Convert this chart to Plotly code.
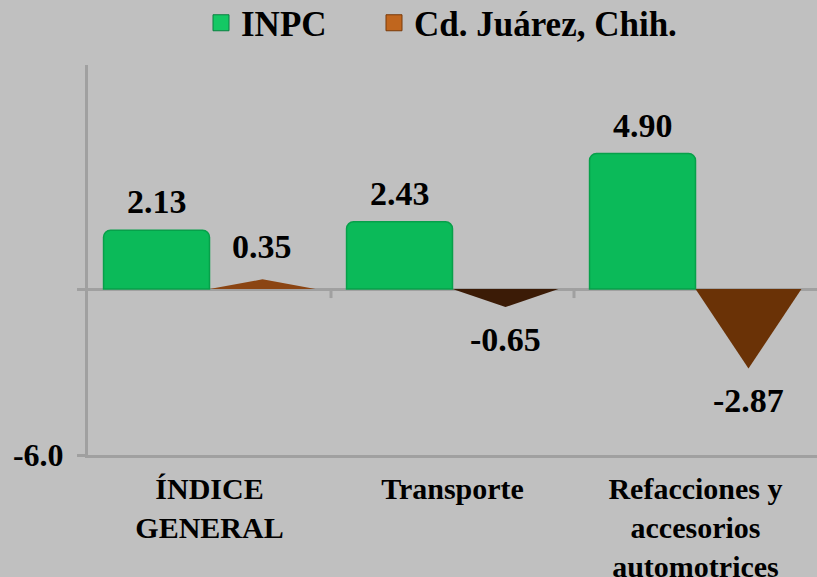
import plotly.graph_objects as go
import numpy as np

categories = ["ÍNDICE<br>GENERAL", "Transporte", "Refacciones y<br>accesorios<br>automotrices"]
inpc = [2.13, 2.43, 4.90]
juarez = [0.35, -0.65, -2.87]
series_names = ["INPC", "Cd. Juárez, Chih."]
y_tick_vals = [-6, 0]
y_tick_text = ["-6.0", ""]

FONT = "Liberation Serif"
BG = "#C0C0C0"
AXIS = "#A0A0A0"
GREEN = "#0BBA59"
GREEN_EDGE = "#07A04A"
TRI_COLORS = ["#8B4513", "#3B1B06", "#6A3206"]

xs = np.arange(len(categories))
w = 0.436

fig = go.Figure()

fig.add_trace(go.Bar(
    x=xs - w / 2, y=inpc, width=w,
    marker=dict(color=GREEN, line=dict(color=GREEN_EDGE, width=1.5), cornerradius=7),
    showlegend=False, hoverinfo="skip",
))

for i, v in enumerate(juarez):
    x0 = xs[i]
    fig.add_trace(go.Scatter(
        x=[x0, x0 + w / 2, x0 + w, x0], y=[0, v, 0, 0],
        mode="lines", fill="toself", fillcolor=TRI_COLORS[i % len(TRI_COLORS)],
        line=dict(width=0, color=TRI_COLORS[i % len(TRI_COLORS)]),
        showlegend=False, hoverinfo="skip",
    ))

# legend entries
fig.add_trace(go.Scatter(
    x=[None], y=[None], mode="markers", name=series_names[0], legend="legend",
    marker=dict(symbol="square", size=19, color="#14C864", line=dict(color="#0A8040", width=1)),
))
fig.add_trace(go.Scatter(
    x=[None], y=[None], mode="markers", name=series_names[1], legend="legend2",
    marker=dict(symbol="square", size=19, color="#C0661E", line=dict(color="#7A3A08", width=1)),
))

# data labels
for i, v in enumerate(inpc):
    fig.add_annotation(x=xs[i] - w / 2, y=v, text=f"{v:.2f}", showarrow=False,
                       yanchor="bottom", yshift=8,
                       font=dict(family=FONT, size=34, color="black", weight="bold"))
for i, v in enumerate(juarez):
    fig.add_annotation(x=xs[i] + w / 2, y=v, text=f"{v:.2f}", showarrow=False,
                       yanchor="bottom" if v >= 0 else "top",
                       yshift=12 if v >= 0 else -12,
                       font=dict(family=FONT, size=34, color="black", weight="bold"))

# category separator ticks on the zero line
for b in xs[:-1] + 0.5:
    fig.add_shape(type="line", xref="x", yref="y", x0=b, x1=b,
                  ysizemode="pixel", yanchor=0, y0=0, y1=-9,
                  line=dict(color=AXIS, width=3))

legend_font = dict(family=FONT, size=35, color="black", weight="bold")
fig.update_layout(
    width=817, height=577,
    margin=dict(l=88, r=0, t=65, b=122),
    paper_bgcolor=BG, plot_bgcolor=BG,
    font=dict(family=FONT, color="black", weight="bold"),
    legend=dict(orientation="h", xref="container", yref="container",
                x=201 / 817, xanchor="left", y=1 - 23 / 577, yanchor="middle",
                font=legend_font, bgcolor="rgba(0,0,0,0)"),
    legend2=dict(orientation="h", xref="container", yref="container",
                 x=374 / 817, xanchor="left", y=1 - 23 / 577, yanchor="middle",
                 font=legend_font, bgcolor="rgba(0,0,0,0)"),
    xaxis=dict(range=[-0.5, len(categories) - 0.5], tickvals=xs, ticktext=categories,
               showline=True, linecolor=AXIS, linewidth=3, ticks="",
               showgrid=False, zeroline=False, ticklabelstandoff=5, automargin=False,
               tickfont=dict(family=FONT, size=30, color="black", weight="bold")),
    yaxis=dict(range=[-6, 8.1], tickvals=y_tick_vals, ticktext=y_tick_text,
               showline=True, linecolor=AXIS, linewidth=3,
               ticks="outside", ticklen=8, tickwidth=3, tickcolor=AXIS,
               showgrid=False, zeroline=True, zerolinecolor=AXIS, zerolinewidth=3,
               ticklabelstandoff=7, automargin=False,
               tickfont=dict(family=FONT, size=32, color="black", weight="bold")),
)

fig.write_html("out.html", config={"displayModeBar": False},
               post_script="document.body.style.margin='0';document.body.style.padding='0';")
